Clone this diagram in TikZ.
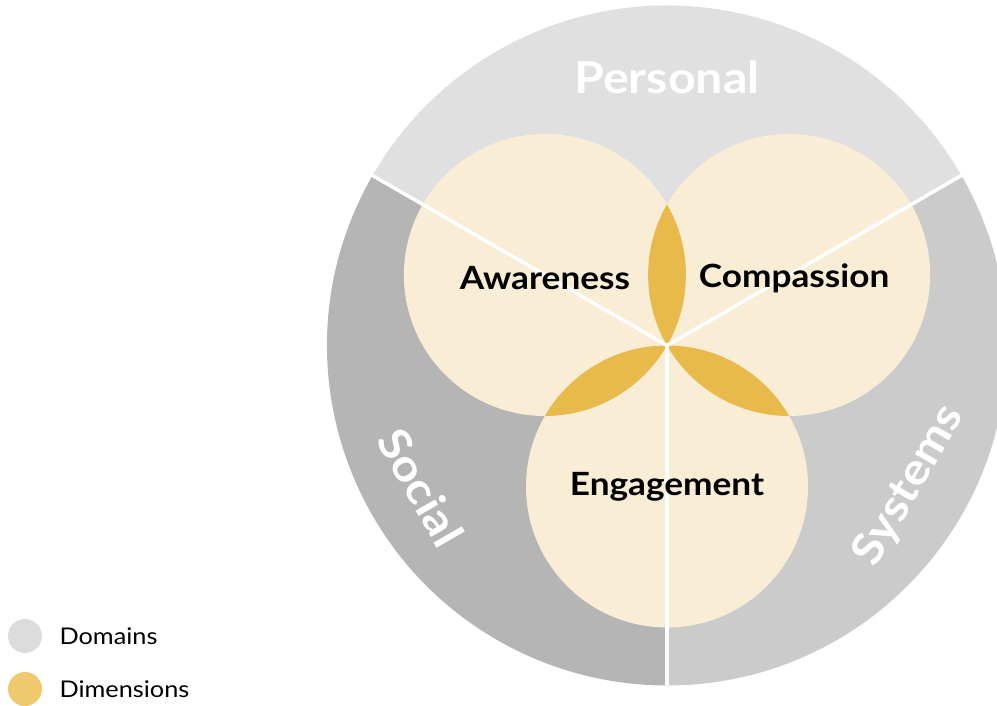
\documentclass[tikz,border=0pt]{standalone}
\usepackage{fontspec}
\setmainfont{Lato}[FakeStretch=1.1]
\usetikzlibrary{positioning,calc}

\definecolor{personalgray}{HTML}{E0E0E0}
\definecolor{socialgray}{HTML}{B5B5B5}
\definecolor{systemsgray}{HTML}{CBCBCB}
\definecolor{dimcream}{HTML}{F9EDD5}
\definecolor{lensgold}{HTML}{E8BA4B}
\definecolor{legendgray}{HTML}{DCDCDC}
\definecolor{legendgold}{HTML}{F0C96C}

\begin{document}
\begin{tikzpicture}[x=1pt,y=1pt,
    domainlabel/.style={font=\bfseries\fontsize{44}{44}\selectfont,text=white},
    dimlabel/.style={font=\bfseries\fontsize{32}{32}\selectfont,text=black},
    divider/.style={draw=white,line width=3.5pt},
    legendtext/.style={anchor=west,font=\fontsize{23}{23}\selectfont}]
            \useasboundingbox (0,0) rectangle (997,706);
            \def\R{340}
            \def\r{141}
            % Centres
            \coordinate (O) at (667,360.5);
            \coordinate (aw) at ($(O)+(150:\r)$);
            \coordinate (co) at ($(O)+(30:\r)$);
            \coordinate (en) at ($(O)+(270:\r)$);
            % Domains
            \fill[personalgray] (O) -- ++(30:\R) arc (30:150:\R) -- cycle;
            \fill[socialgray] (O) -- ++(150:\R) arc (150:270:\R) -- cycle;
            \fill[systemsgray] (O) -- ++(270:\R) arc (270:390:\R) -- cycle;
            % Dimensions
            \foreach \c in {aw,co,en}
                \fill[dimcream] (\c) circle (\r);
            % Overlaps
            \foreach \a/\b in {aw/co,aw/en,co/en}{
                \begin{scope}
                    \clip (\a) circle (\r);
                    \fill[lensgold] (\b) circle (\r);
                \end{scope}}
            % Dividers
            \coordinate (pl) at ($(O)+(150:\R)$);
            \coordinate (pr) at ($(O)+(30:\R)$);
            \coordinate (pb) at ($(O)+(270:\R)$);
            \draw[divider] (O) -- (pl);
            \draw[divider] (O) -- (pr);
            \draw[divider] (O) -- (pb);
            % Labels
            \node[domainlabel] (personal) at ($(O)+(90:268)$) {Personal};
            \node[domainlabel,rotate=-60] (social) at ($(O)+(210:284)$) {Social};
            \node[domainlabel,rotate=60] (systems) at ($(O)+(330:280)$) {Systems};
            \node[dimlabel] (awareness) at ($(aw)+(0,-3)$) {Awareness};
            \node[dimlabel] (compassion) at ($(co)+(5,-3)$) {Compassion};
            \node[dimlabel] (engagement) at (en) {Engagement};
            % Legend
            \fill[legendgray] (25,70) circle (17) coordinate (ldom);
            \fill[legendgold] (25,17) circle (17) coordinate (ldim);
            \node[legendtext] (domains) at (56,70) {Domains};
            \node[legendtext] (dimensions) at (56,17) {Dimensions};
        \end{tikzpicture}
\end{document}
